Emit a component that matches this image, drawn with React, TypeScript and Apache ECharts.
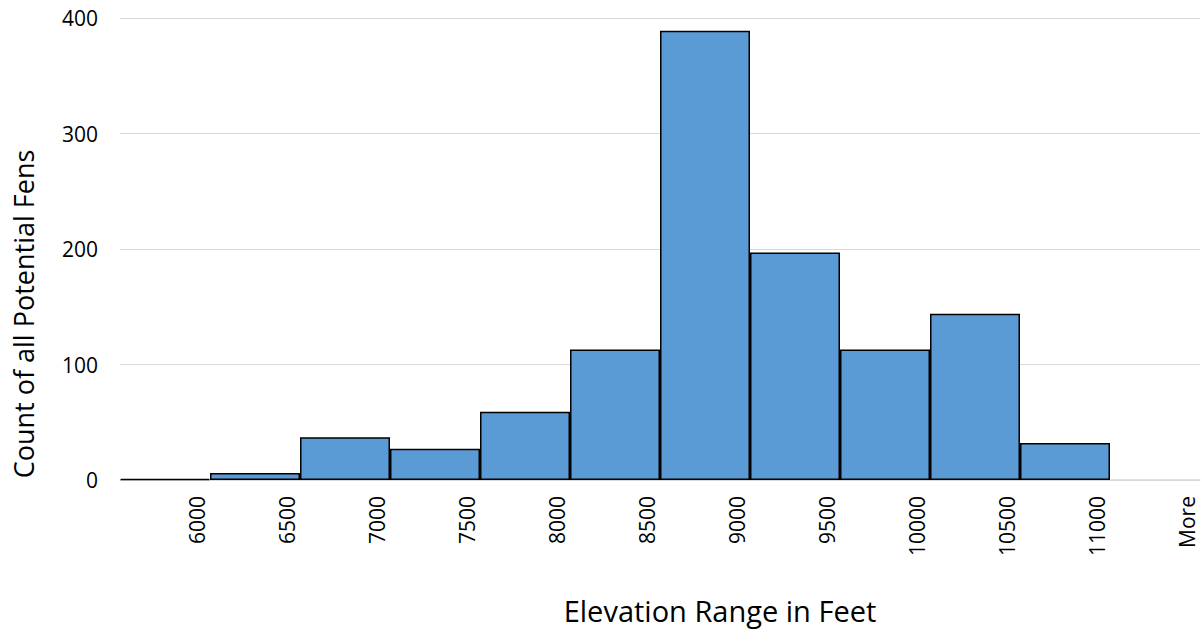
import React, { useEffect, useRef } from "react";
import * as echarts from "echarts";

const categories = ["6000", "6500", "7000", "7500", "8000", "8500", "9000", "9500", "10000", "10500", "11000", "More"];
const counts = [1, 6, 37, 27, 59, 113, 389, 197, 113, 144, 32, 0];
const yTitle = "Count of all Potential Fens";
const xTitle = "Elevation Range in Feet";

export default function App() {
  const ref = useRef<HTMLDivElement>(null);
  useEffect(() => {
    if (!ref.current) return;
    const chart = echarts.init(ref.current, null, { renderer: "svg" });
    const font = "'Open Sans', 'Noto Sans', sans-serif";
    chart.setOption({
      animation: false,
      backgroundColor: "#ffffff",
      grid: {
        left: 120,
        right: 1,
        top: 18,
        bottom: 153,
        containLabel: false,
        outerBoundsMode: "none",
      },
      xAxis: {
        type: "category",
        data: categories,
        axisLine: { show: true, lineStyle: { color: "#d9d9d9", width: 1.5 } },
        axisTick: { show: false },
        axisLabel: {
          interval: 0,
          rotate: 90,
          margin: 16,
          fontSize: 21,
          fontFamily: font,
          color: "#000",
          lineHeight: 64,
          formatter: (v: string) => "\n" + v,
        },
      },
      yAxis: {
        type: "value",
        min: 0,
        max: 400,
        interval: 100,
        axisLine: { show: false },
        axisTick: { show: false },
        splitLine: { lineStyle: { color: "#d9d9d9", width: 1.2 } },
        axisLabel: { margin: 22, fontSize: 21, fontFamily: font, color: "#000" },
      },
      series: [
        {
          type: "bar",
          data: counts.map((v) => (v === 0 ? "-" : v)),
          barCategoryGap: "0%",
          itemStyle: { color: "#5b9bd5", borderColor: "#000", borderWidth: 1.5 },
        },
      ],
      graphic: [
        {
          type: "text",
          x: 23,
          y: 314,
          rotation: Math.PI / 2,
          style: {
            text: yTitle,
            fontSize: 27,
            fontFamily: font,
            fill: "#000",
            align: "center",
            verticalAlign: "middle",
          },
        },
        {
          type: "text",
          x: 720,
          y: 610,
          style: {
            text: xTitle,
            fontSize: 29,
            fontFamily: font,
            fill: "#000",
            align: "center",
            verticalAlign: "middle",
          },
        },
      ],
    });
    return () => chart.dispose();
  }, []);
  return (
    <div
      ref={ref}
      style={{ position: "fixed", left: 0, top: 0, width: 1201, height: 633 }}
    />
  );
}
